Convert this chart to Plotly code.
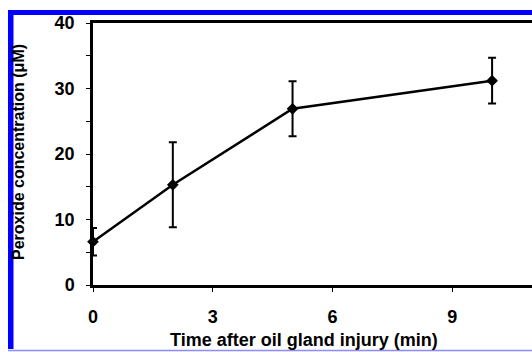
import plotly.graph_objects as go

time_min = [0, 2, 5, 10]
peroxide_uM = [6.6, 15.3, 26.9, 31.2]
peroxide_err = [2.1, 6.5, 4.2, 3.5]
x_ticks = [0, 3, 6, 9]
y_ticks = [0, 10, 20, 30, 40]

W, H = 532, 352
L, R, T, B = 93, 0, 23, 67
pw, ph = W - L - R, H - T - B

def px(x):
    return (x - L) / pw

def py(y):
    return (H - B - y) / ph

FONT = "Liberation Sans, Arial, Helvetica, sans-serif"

fig = go.Figure()
fig.add_trace(go.Scatter(
    x=time_min, y=peroxide_uM,
    mode="lines+markers",
    line=dict(color="black", width=2.5),
    marker=dict(symbol="diamond", size=9, color="black"),
    error_y=dict(type="data", array=peroxide_err, color="black", thickness=2, width=4),
    showlegend=False, cliponaxis=False,
))

shapes = [
    dict(type="rect", xref="paper", yref="paper", x0=px(8), x1=px(13.5), y0=py(349), y1=py(10),
         fillcolor="#0000ff", line=dict(width=0), layer="above"),
    dict(type="rect", xref="paper", yref="paper", x0=px(8), x1=px(533), y0=py(15), y1=py(10),
         fillcolor="#0000ff", line=dict(width=0), layer="above"),
    dict(type="line", xref="paper", yref="paper", x0=px(8), x1=px(533), y0=py(350.5), y1=py(350.5),
         line=dict(color="#8c8cff", width=1.5), layer="above"),
]

annotations = [
    dict(text="Time after oil gland injury (min)", xref="paper", yref="paper",
         x=px(304), y=py(340), xanchor="center", yanchor="middle", showarrow=False,
         font=dict(size=18, weight="bold")),
    dict(text="Peroxide concentration (μM)", xref="paper", yref="paper",
         x=px(18), y=py(152), xanchor="center", yanchor="middle", showarrow=False,
         textangle=-90, font=dict(size=16, weight="bold")),
]

fig.update_layout(
    width=W, height=H,
    margin=dict(l=L, r=R, t=T, b=B, pad=0),
    paper_bgcolor="white", plot_bgcolor="white",
    font=dict(family=FONT, color="black", size=18, weight="bold"),
    shapes=shapes,
    annotations=annotations,
    xaxis=dict(
        range=[0, 11], tickvals=x_ticks, ticktext=[str(v) for v in x_ticks],
        showline=True, linecolor="black", linewidth=2.5, mirror=True,
        ticks="outside", ticklen=4, tickwidth=1, tickcolor="black",
        showgrid=False, zeroline=False, automargin=False,
        tickfont=dict(size=18, weight="bold"), ticklabelstandoff=10,
    ),
    yaxis=dict(
        range=[0, 40], tickvals=[0, 5, 10, 15, 20, 25, 30, 35, 40],
        ticktext=["0", "", "10", "", "20", "", "30", "", "40"],
        showline=True, linecolor="black", linewidth=2.5, mirror=False,
        ticks="outside", ticklen=4, tickwidth=1, tickcolor="black",
        showgrid=False, zeroline=False, automargin=False,
        tickfont=dict(size=18, weight="bold"), ticklabelstandoff=8,
    ),
)

fig.write_html(
    "out.html",
    config={"displayModeBar": False},
    post_script="document.body.style.margin='0';document.body.style.overflow='hidden';"
                "document.documentElement.style.overflow='hidden';",
)
